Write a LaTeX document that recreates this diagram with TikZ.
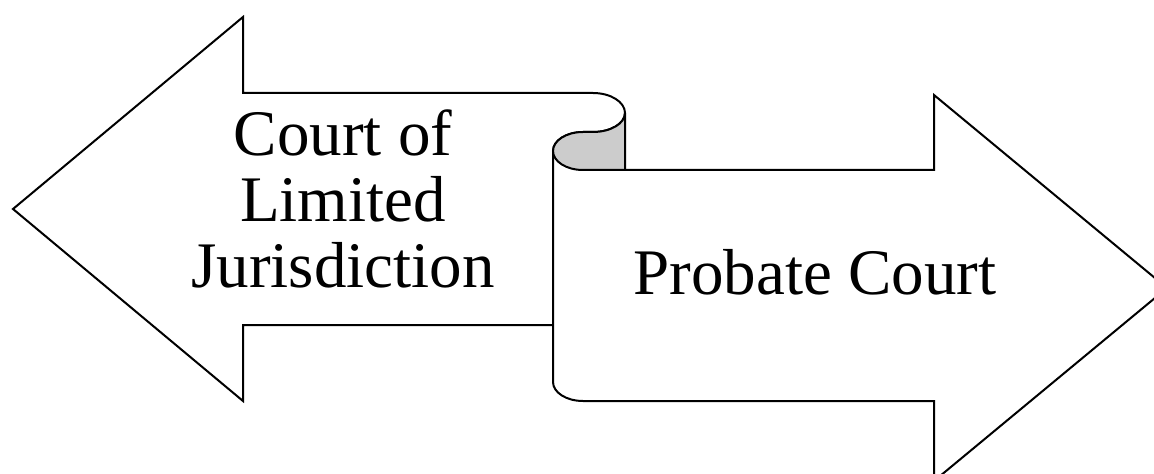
\documentclass[tikz,border=0pt]{standalone}
\usepackage{fontspec}
\setmainfont{Liberation Serif}
\usetikzlibrary{positioning}

\begin{document}
\begin{tikzpicture}[x=0.75pt, y=-0.75pt,
    banner/.style={draw, line width=1.5pt, fill=white},
    curlface/.style={draw, line width=1.5pt, fill=black!20},
    bannertext/.style={inner sep=0pt, align=center, font=\fontsize{48.75}{49.5}\selectfont}]
        \useasboundingbox (0,0) rectangle (1154,474);
        \clip (0,0) rectangle (1154,474);

        % left arrow, top edge rolls over into the curl
        \path[banner] (553,325) -- (243,325) -- (243,401) -- (13,209) -- (243,17) -- (243,93) -- (593,93)
            .. controls (610.7,93) and (625,102) .. (625,113)
            .. controls (625,123.5) and (610.7,132) .. (593,132) -- (583,132)
            .. controls (566.4,132) and (553,140.5) .. (553,151) -- cycle;

        % right arrow, hanging down from the curl
        \path[banner] (553,151) -- (553,382)
            .. controls (553,392.5) and (566.4,401) .. (583,401) -- (934,401) -- (934,481)
            -- (1167,288) -- (934,95) -- (934,170) -- (625,170);

        % underside of the curl
        \path[curlface] (625,113)
            .. controls (625,123.5) and (610.7,132) .. (593,132) -- (583,132)
            .. controls (566.4,132) and (553,140.5) .. (553,151)
            .. controls (553,161.5) and (566.4,170) .. (583,170) -- (625,170) -- cycle;

        \node[bannertext] (limited) at (343,199) {Court of\\Limited\\Jurisdiction};
        \node[bannertext, anchor=base] (probate) at (815,295) {Probate Court};
    \end{tikzpicture}
\end{document}
